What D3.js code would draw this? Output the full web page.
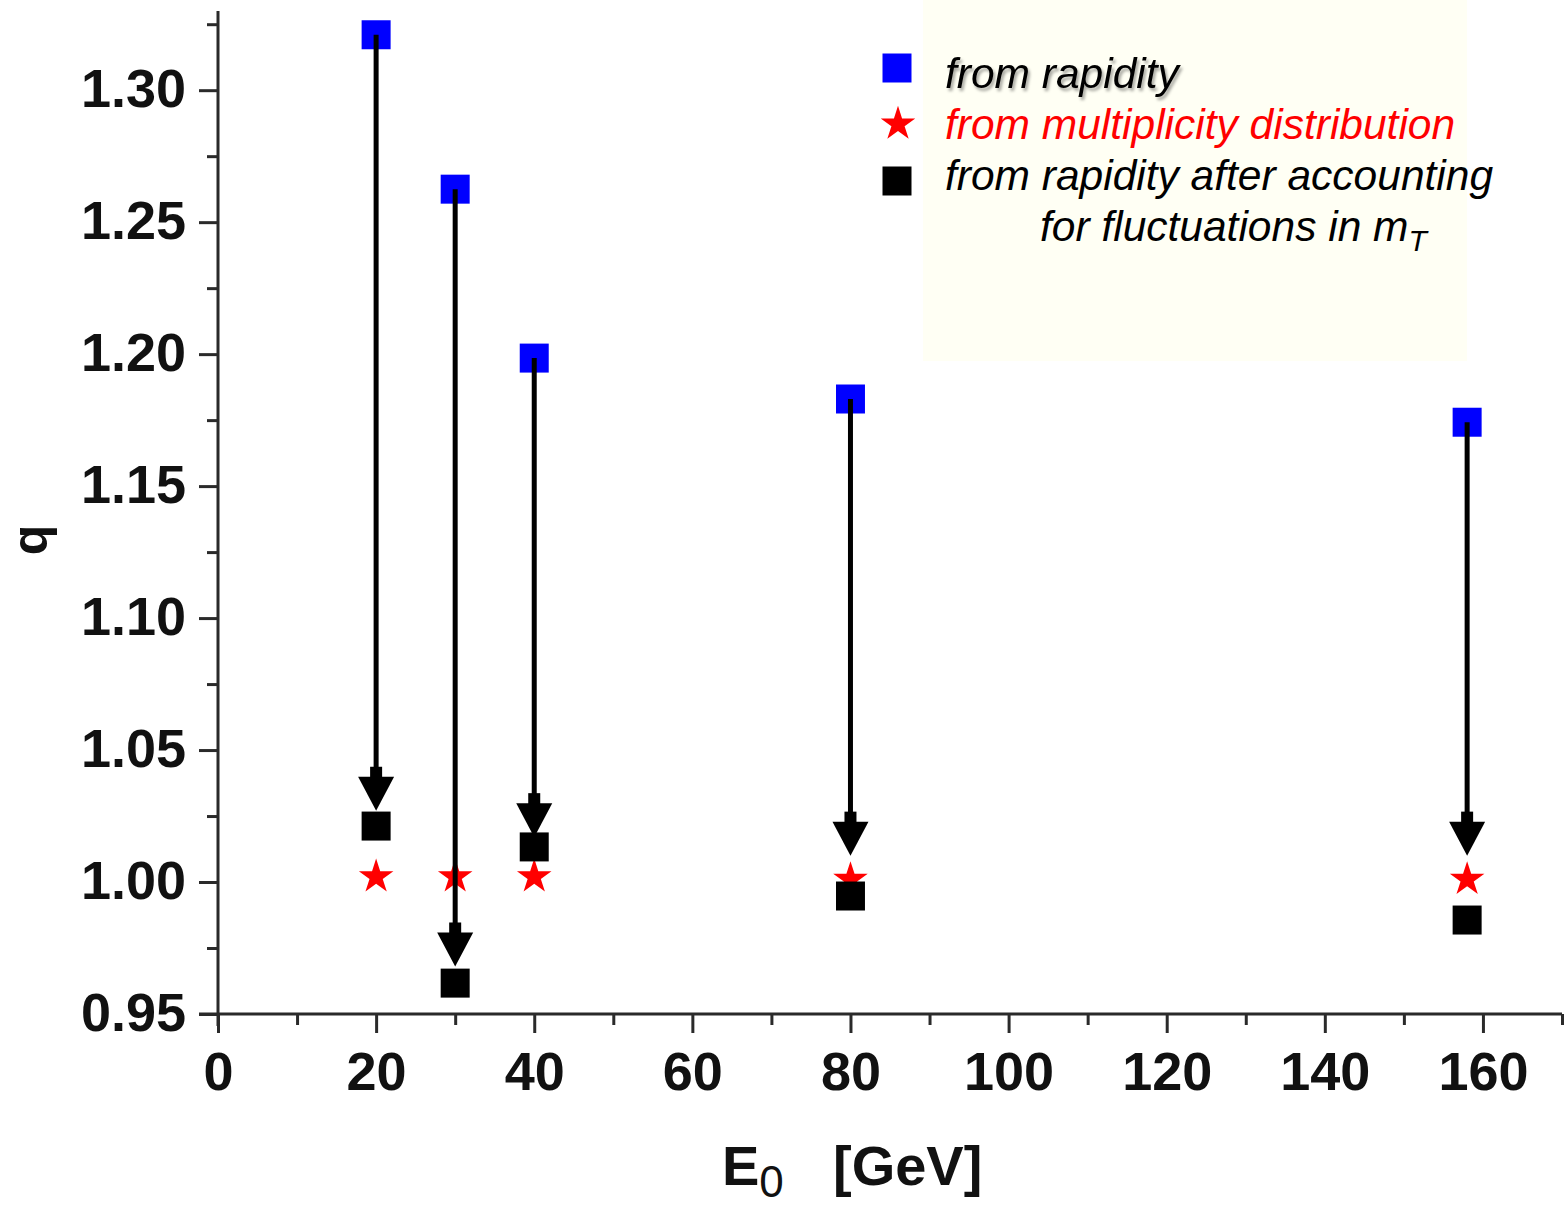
<!DOCTYPE html>
<html>
<head>
<meta charset="utf-8">
<script src="https://cdn.jsdelivr.net/npm/d3@7/dist/d3.min.js"></script>
<style>
  html, body { margin: 0; padding: 0; background: #ffffff; }
  svg { display: block; }
  text { font-family: "Liberation Sans", Arial, sans-serif; }
</style>
</head>
<body>
<svg id="chart" width="1566" height="1205"></svg>
<script>
// Beam energies (GeV) and extracted Tsallis q values
const energies = [20, 30, 40, 80, 158];
const qRapidity = [1.321, 1.2625, 1.1985, 1.183, 1.1742];
const qMultiplicity = [1.002, 1.002, 1.002, 1.001, 1.001];
const qCorrected = [1.0212, 0.9617, 1.0133, 0.9947, 0.9856];
// where each correction arrow points to
const arrowEnd = [1.027, 0.968, 1.017, 1.010, 1.010];

const xMajorTicks = [0, 20, 40, 60, 80, 100, 120, 140, 160];
const xMinorTicks = [10, 30, 50, 70, 90, 110, 130, 150, 170];
const yMajorTicks = [0.95, 1.00, 1.05, 1.10, 1.15, 1.20, 1.25, 1.30];
const yMinorTicks = [0.975, 1.025, 1.075, 1.125, 1.175, 1.225, 1.275, 1.325];

const legendItems = [
  { label: "from rapidity", kind: "blue" },
  { label: "from multiplicity distribution", kind: "star" },
  { label: "from rapidity after accounting", kind: "black" }
];

const svg = d3.select("#chart");

const defs = svg.append("defs");
const shadow = defs.append("filter").attr("id", "soft-shadow")
  .attr("x", "-5%").attr("y", "-20%").attr("width", "115%").attr("height", "160%");
shadow.append("feDropShadow")
  .attr("dx", 2).attr("dy", 3).attr("stdDeviation", 1.8)
  .attr("flood-color", "#000").attr("flood-opacity", 0.35);

const x = d3.scaleLinear().domain([0, 170]).range([218, 1562]);
const y = d3.scaleLinear().domain([0.95, 1.33]).range([1014, 11]);

// legend backdrop
svg.append("rect")
  .attr("x", 923).attr("y", 0).attr("width", 544).attr("height", 361)
  .attr("fill", "#fffff4");

const axisColor = "#2a2a2a";
const tickFont = { size: "54px", weight: "bold" };

// y axis
const yAxis = svg.append("g").attr("transform", `translate(${x(0)},0)`);
yAxis.call(d3.axisLeft(y).tickValues(yMajorTicks).tickFormat(d3.format(".2f"))
  .tickSize(19).tickSizeOuter(0).tickPadding(13));
yAxis.append("g").call(d3.axisLeft(y).tickValues(yMinorTicks).tickFormat("").tickSize(11).tickSizeOuter(0))
  .select(".domain").remove();
yAxis.select(".domain").remove();
yAxis.selectAll("line").attr("stroke", axisColor).attr("stroke-width", 3);
yAxis.selectAll("text")
  .attr("font-size", tickFont.size).attr("font-weight", tickFont.weight)
  .attr("fill", "#111").attr("dy", "0.3em");

// x axis
const xAxis = svg.append("g").attr("transform", `translate(0,${y(0.95)})`);
xAxis.call(d3.axisBottom(x).tickValues(xMajorTicks).tickFormat(d3.format("d"))
  .tickSize(19).tickSizeOuter(0).tickPadding(19));
xAxis.append("g").call(d3.axisBottom(x).tickValues(xMinorTicks).tickFormat("").tickSize(11).tickSizeOuter(0))
  .select(".domain").remove();
xAxis.select(".domain").remove();
xAxis.selectAll("line").attr("stroke", axisColor).attr("stroke-width", 3);
xAxis.selectAll("text")
  .attr("font-size", tickFont.size).attr("font-weight", tickFont.weight)
  .attr("fill", "#111");

// axis lines (crossing slightly at the origin)
svg.append("line")
  .attr("x1", x(0)).attr("x2", x(0)).attr("y1", y(1.33)).attr("y2", y(0.95) + 12)
  .attr("stroke", axisColor).attr("stroke-width", 3);
svg.append("line")
  .attr("x1", x(0) - 19).attr("x2", x(170)).attr("y1", y(0.95)).attr("y2", y(0.95))
  .attr("stroke", axisColor).attr("stroke-width", 3);

// axis titles
const xTitle = svg.append("text")
  .attr("x", 722).attr("y", 1185)
  .attr("font-size", "56px").attr("font-weight", "bold").attr("fill", "#111");
xTitle.append("tspan").text("E");
xTitle.append("tspan").attr("dy", 12).attr("font-size", "44px").attr("font-weight", "normal").text("0");
xTitle.append("tspan").attr("x", 833).attr("y", 1185).text("[GeV]");

svg.append("text")
  .attr("transform", `translate(47,540) rotate(-90)`)
  .attr("text-anchor", "middle")
  .attr("font-size", "50px").attr("font-weight", "bold").attr("fill", "#111")
  .text("q");

// markers
const squareSym = d3.symbol().type(d3.symbolSquare).size(29 * 29);
const starSym = d3.symbol().type(d3.symbolStar).size(370);

const pts = energies.map((e, i) => ({
  e, top: qRapidity[i], mult: qMultiplicity[i], corr: qCorrected[i], end: arrowEnd[i]
}));

// stars sit underneath the arrows
svg.append("g").selectAll("path").data(pts).join("path")
  .attr("d", starSym)
  .attr("transform", d => `translate(${x(d.e)},${y(d.mult)})`)
  .attr("fill", "#ff0000");

svg.append("g").selectAll("path").data(pts).join("path")
  .attr("d", squareSym)
  .attr("transform", d => `translate(${x(d.e)},${y(d.corr)})`)
  .attr("fill", "#000000");

svg.append("g").selectAll("path").data(pts).join("path")
  .attr("d", squareSym)
  .attr("transform", d => `translate(${x(d.e)},${y(d.top)})`)
  .attr("fill", "#0000ff");

// correction arrows from the rapidity value downward
const arrows = svg.append("g").selectAll("g").data(pts).join("g");
arrows.append("line")
  .attr("x1", d => x(d.e)).attr("x2", d => x(d.e))
  .attr("y1", d => y(d.top)).attr("y2", d => y(d.end) - 30)
  .attr("stroke", "#000").attr("stroke-width", 5);
arrows.append("rect")
  .attr("x", d => x(d.e) - 6).attr("y", d => y(d.end) - 44)
  .attr("width", 12).attr("height", 11)
  .attr("fill", "#000");
arrows.append("path")
  .attr("d", d => {
    const cx = x(d.e), tip = y(d.end);
    return `M${cx - 18},${tip - 34}L${cx + 18},${tip - 34}L${cx},${tip}Z`;
  })
  .attr("fill", "#000");

// legend
const legendMarkY = [68, 124, 181];
const legendTextY = [88, 139, 190];
const legend = svg.append("g");
legendItems.forEach((item, i) => {
  const cy = legendMarkY[i];
  if (item.kind === "star") {
    legend.append("path").attr("d", starSym).attr("transform", `translate(898,${cy})`).attr("fill", "#ff0000");
  } else {
    legend.append("path").attr("d", squareSym).attr("transform", `translate(897,${cy})`)
      .attr("fill", item.kind === "blue" ? "#0000ff" : "#000000");
  }
  const t = legend.append("text")
    .attr("x", 945).attr("y", legendTextY[i])
    .attr("font-size", "42.5px").attr("font-style", "italic")
    .attr("fill", item.kind === "star" ? "#ff0000" : "#000")
    .text(item.label);
  if (i === 0) t.attr("filter", "url(#soft-shadow)");
});
const last = legend.append("text")
  .attr("x", 1040).attr("y", 241)
  .attr("font-size", "42.5px").attr("font-style", "italic").attr("fill", "#000");
last.append("tspan").text("for fluctuations in m");
last.append("tspan").attr("dy", 10).attr("font-size", "30px").text("T");
</script>
</body>
</html>
